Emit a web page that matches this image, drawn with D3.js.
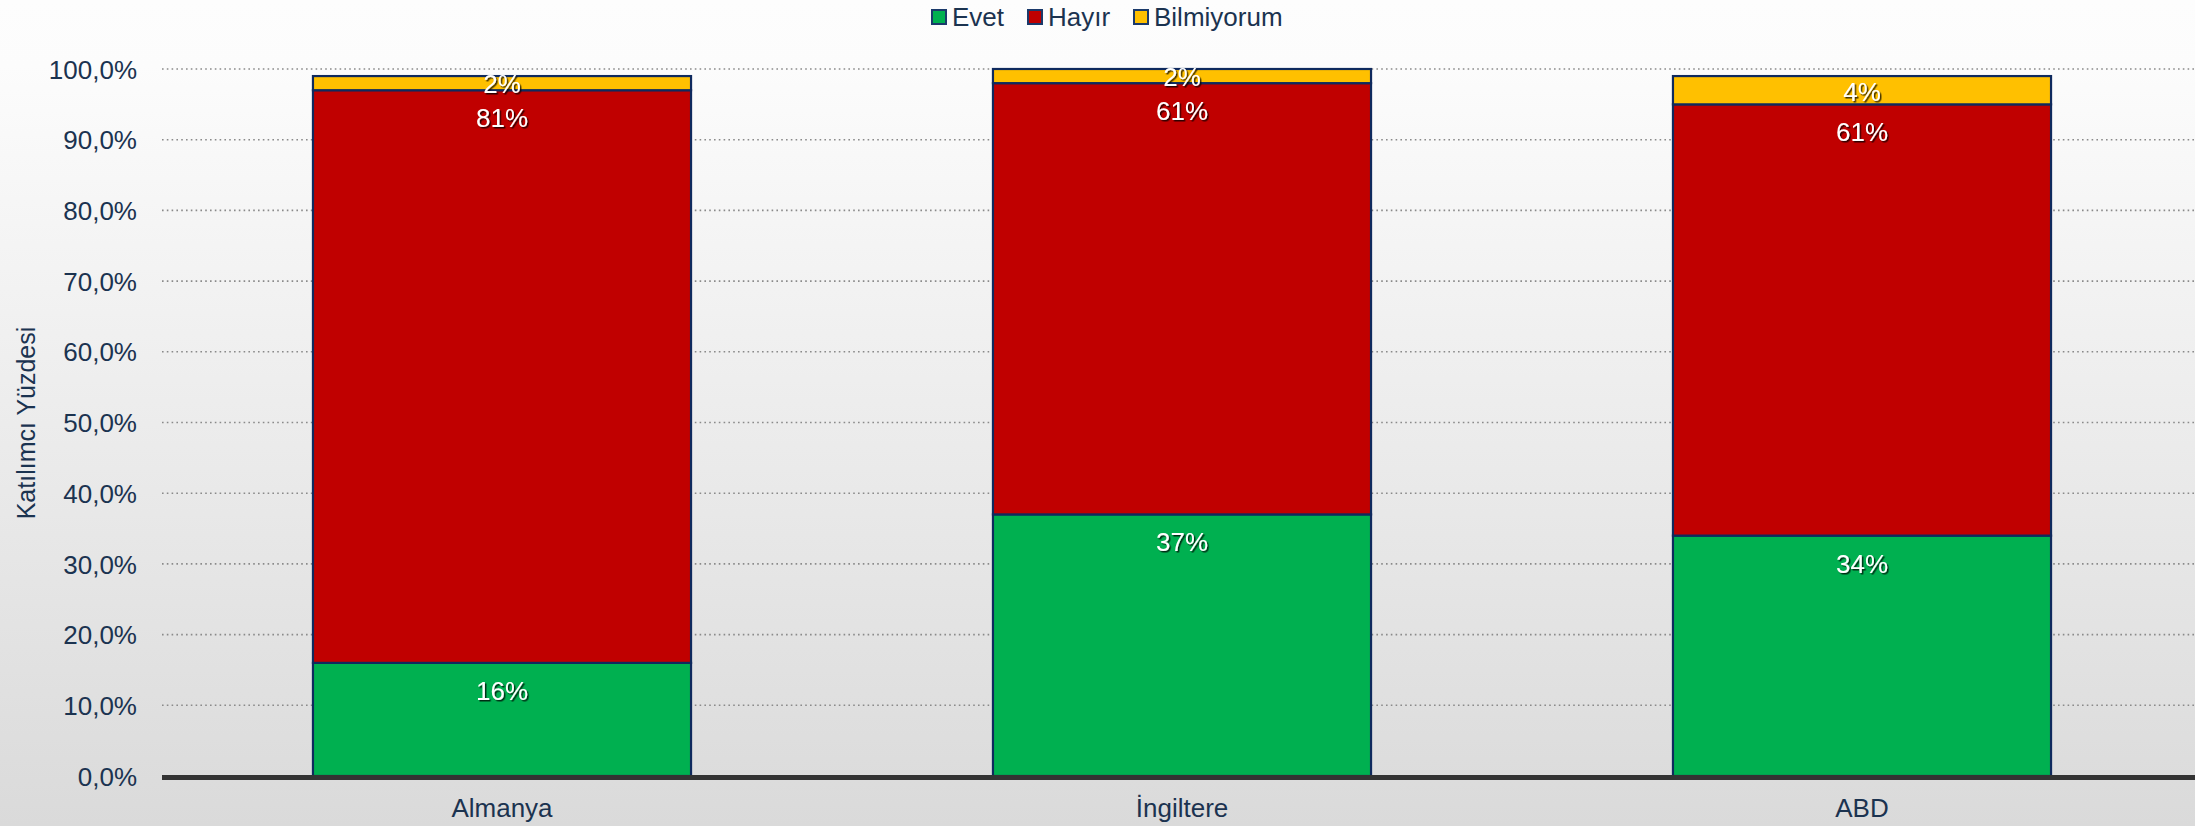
<!DOCTYPE html>
<html><head><meta charset="utf-8">
<script src="https://cdn.jsdelivr.net/npm/d3@7"></script>
<style>
html,body{margin:0;padding:0;background:#fff;}
svg{display:block;font-family:"Liberation Sans",Arial,sans-serif;}
</style></head>
<body><svg id="c" width="2195" height="826"></svg>
<script>
const categories = ["Almanya", "İngiltere", "ABD"];
const seriesNames = ["Evet", "Hayır", "Bilmiyorum"];
const evet = [16, 37, 34];
const hayir = [81, 61, 61];
const bilmiyorum = [2, 2, 4];
const yTicks = [0, 10, 20, 30, 40, 50, 60, 70, 80, 90, 100];
const colors = ["#00b050", "#c00000", "#ffc000"];

const W = 2195, H = 826;
const svg = d3.select("#c");
const defs = svg.append("defs");
const grad = defs.append("linearGradient").attr("id","bg").attr("x1",0).attr("y1",0).attr("x2",0).attr("y2",1);
grad.append("stop").attr("offset","0%").attr("stop-color","#fdfdfd");
grad.append("stop").attr("offset","8%").attr("stop-color","#fcfcfc");
grad.append("stop").attr("offset","100%").attr("stop-color","#dadada");
const f = defs.append("filter").attr("id","sh").attr("x","-20%").attr("y","-20%").attr("width","140%").attr("height","140%");
f.append("feDropShadow").attr("dx",1.5).attr("dy",1.5).attr("stdDeviation",0.6).attr("flood-color","#000").attr("flood-opacity",0.75);

svg.append("rect").attr("width",W).attr("height",H).attr("fill","url(#bg)");

const x = d3.scaleBand().domain(categories).range([162, 2202]).paddingInner(0.444).paddingOuter(0.222);
const y = d3.scaleLinear().domain([0, 100]).range([776, 69]);

// gridlines
svg.append("g").selectAll("line").data(yTicks.filter(t => t > 0)).join("line")
  .attr("x1", 162).attr("x2", W).attr("y1", d => y(d)).attr("y2", d => y(d))
  .attr("stroke","#8a8a8a").attr("stroke-width",1.6).attr("stroke-dasharray","1.6,3.2");

// y axis
const yAxis = d3.axisLeft(y).tickValues(yTicks).tickSize(0).tickPadding(0)
  .tickFormat(d => d3.format(".1f")(d).replace(".", ",") + "%");
const gy = svg.append("g").attr("transform","translate(137,0)").call(yAxis);
gy.select(".domain").remove();
gy.selectAll("text").attr("font-size",26).attr("fill","#1b3350").attr("font-family","Liberation Sans, Arial, sans-serif").attr("dy","0.35em");

// axis title
svg.append("text").attr("transform","translate(26,423) rotate(-90)").attr("text-anchor","middle")
  .attr("dominant-baseline","central").attr("font-size",25).attr("fill","#1b3350").text("Katılımcı Yüzdesi");

// stacked data
const table = categories.map((c, i) => ({cat: c, Evet: evet[i], "Hayır": hayir[i], Bilmiyorum: bilmiyorum[i]}));
const stack = d3.stack().keys(seriesNames)(table);

const layers = svg.append("g").selectAll("g").data(stack).join("g").attr("fill", (d, i) => colors[i]);
layers.selectAll("rect").data(d => d).join("rect")
  .attr("x", d => x(d.data.cat)).attr("width", x.bandwidth())
  .attr("y", d => y(d[1])).attr("height", d => y(d[0]) - y(d[1]))
  .attr("stroke","#0f2a5e").attr("stroke-width",2.2);

// labels
const lab = svg.append("g").attr("filter","url(#sh)");
stack.forEach(layer => {
  layer.forEach(d => {
    const top = y(d[1]), h = y(d[0]) - y(d[1]);
    const off = h > 56 ? 28 : h * 0.55;
    lab.append("text").attr("x", x(d.data.cat) + x.bandwidth() / 2).attr("y", top + off)
      .attr("text-anchor","middle").attr("dominant-baseline","central")
      .attr("font-size",26).attr("fill","#fff").text(Math.round(d[1] - d[0]) + "%");
  });
});

// x axis line
svg.append("line").attr("x1",162).attr("x2",W).attr("y1",777.5).attr("y2",777.5).attr("stroke","#333").attr("stroke-width",5);
const xAxis = d3.axisBottom(x).tickSize(0).tickPadding(0);
const gx = svg.append("g").attr("transform","translate(0,808)").call(xAxis);
gx.select(".domain").remove();
gx.selectAll("text").attr("font-size",26).attr("fill","#1b3350").attr("font-family","Liberation Sans, Arial, sans-serif").attr("dy","0.35em");

// legend
const legX = [932, 1028, 1134];
const lg = svg.append("g");
seriesNames.forEach((s, i) => {
  lg.append("rect").attr("x", legX[i]).attr("y", 10).attr("width", 14).attr("height", 14)
    .attr("fill", colors[i]).attr("stroke","#1b3a6b").attr("stroke-width",2);
  lg.append("text").attr("x", legX[i] + 20).attr("y", 17).attr("dominant-baseline","central")
    .attr("font-size",26).attr("fill","#1b3350").text(s);
});
</script></body></html>
